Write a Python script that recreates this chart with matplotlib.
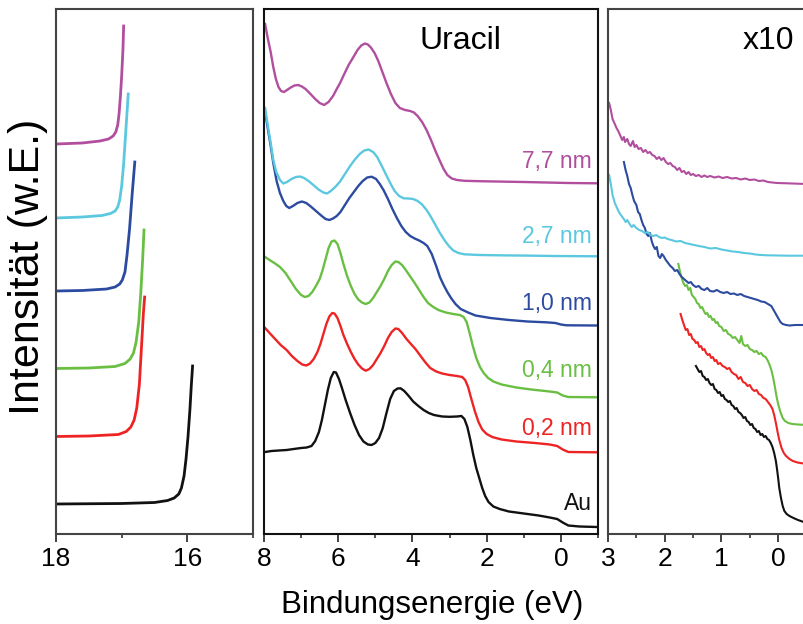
import matplotlib
matplotlib.use("Agg")
import matplotlib.pyplot as plt
from matplotlib.ticker import MultipleLocator

plt.rcParams["font.family"] = ["Liberation Sans", "DejaVu Sans"]

# ---------------------------------------------------------------
# UPS spectra of uracil films on Au, stacked with vertical offsets
# (intensity in arbitrary units)
# ---------------------------------------------------------------
labels = ["Au", "0,2 nm", "0,4 nm", "1,0 nm", "2,7 nm", "7,7 nm"]
colors = ["#111111", "#EE2424", "#6ABF43", "#2C4BA0", "#5CC8DF", "#B14E9E"]

# --- secondary-electron cutoff region (18 .. 15 eV) ---
cut_au_e = [18.0, 17.0, 16.5, 16.3, 16.2, 16.13, 16.09, 16.05, 16.02, 15.99, 15.96, 15.94, 15.92]
cut_au_i = [30, 30.5, 31.5, 33.5, 36, 40, 46, 58, 75, 97, 125, 148, 168]
cut_02_e = [18.0, 17.5, 17.05, 16.93, 16.86, 16.81, 16.77, 16.73, 16.7, 16.67, 16.65]
cut_02_i = [97.5, 98, 99.5, 102.5, 107, 114, 126, 150, 185, 220, 237]
cut_04_e = [18.0, 17.5, 17.1, 16.95, 16.87, 16.82, 16.78, 16.74, 16.71, 16.68, 16.66]
cut_04_i = [165.5, 166, 167.5, 170.5, 175, 181, 192, 212, 240, 275, 304]
cut_10_e = [18.0, 17.6, 17.23, 17.1, 17.03, 16.99, 16.95, 16.92, 16.88, 16.84, 16.8]
cut_10_i = [243, 243.5, 245, 247, 250, 254, 262, 278, 305, 340, 372]
cut_27_e = [18.0, 17.6, 17.3, 17.17, 17.1, 17.06, 17.03, 17.0, 16.97, 16.94, 16.9]
cut_27_i = [316, 317, 318.5, 320.5, 323, 327, 334, 348, 370, 400, 440]
cut_77_e = [18.0, 17.6, 17.33, 17.2, 17.13, 17.09, 17.06, 17.04, 17.02, 17.0, 16.98, 16.97]
cut_77_i = [390, 391, 393, 395, 398, 402, 409, 420, 437, 458, 485, 508]

# --- valence band region (8 .. -1 eV) ---
vb_au_e = [7.97, 7.8, 7.6, 7.39, 7.2, 7.0, 6.85, 6.72, 6.62, 6.52, 6.44, 6.36, 6.28, 6.2,
           6.12, 6.06, 5.98, 5.9, 5.8, 5.68, 5.56, 5.44, 5.32, 5.2, 5.1, 5.0, 4.9, 4.8, 4.7,
           4.6, 4.5, 4.4, 4.32, 4.22, 4.1, 3.98, 3.84, 3.7, 3.56, 3.42, 3.2, 3.0, 2.8, 2.68,
           2.6, 2.52, 2.44, 2.36, 2.28, 2.2, 2.12, 2.04, 1.95, 1.82, 1.65, 1.4, 1.0, 0.6, 0.3,
           0.1, -0.05, -0.2, -0.5, -0.97]
vb_au_i = [82, 83, 83.5, 84, 85, 86, 86.5, 88, 93, 102, 114, 129, 144, 156,
           162, 161.5, 155, 146, 134, 121, 109, 99, 92.5, 89.5, 89, 91, 96, 106, 121,
           135, 143, 145.5, 145.7, 143, 138, 132.5, 128, 124, 121, 119, 117.5, 117.2, 117.5, 118,
           115, 107, 94, 79, 66, 56, 46, 38, 32, 27.5, 25, 22.5, 20.5, 18.5, 16.5,
           15, 11.5, 8.5, 7.5, 7]
vb_02_e = [7.97, 7.85, 7.7, 7.55, 7.39, 7.25, 7.1, 6.97, 6.86, 6.76, 6.66, 6.56, 6.48, 6.4,
           6.32, 6.24, 6.16, 6.1, 6.02, 5.94, 5.86, 5.76, 5.66, 5.56, 5.46, 5.36, 5.26, 5.16,
           5.06, 4.96, 4.86, 4.76, 4.66, 4.56, 4.46, 4.38, 4.28, 4.16, 4.04, 3.92, 3.8, 3.66,
           3.52, 3.36, 3.2, 3.0, 2.8, 2.66, 2.58, 2.5, 2.42, 2.32, 2.22, 2.12, 2.0, 1.85, 1.6,
           1.2, 0.7, 0.3, 0.1, -0.05, -0.2, -0.97]
vb_02_i = [206, 201, 195, 189, 184, 178, 173, 169.5, 168.5, 170.5, 175, 182, 190, 200,
           210, 217.5, 221, 220.5, 216, 208, 199, 190, 182, 175, 169.5, 165.5, 163.3, 165,
           169, 175, 181, 188, 196, 202, 205.5, 205, 201, 195, 190, 185, 179, 172,
           166, 162.5, 160.5, 159, 158, 157, 154, 147, 136, 123, 112, 104.5, 100, 97, 94.5,
           92.5, 91, 89.5, 88, 84.5, 82, 81.7]
vb_04_e = [7.97, 7.85, 7.72, 7.57, 7.42, 7.28, 7.14, 7.0, 6.9, 6.8, 6.7, 6.6, 6.5, 6.42,
           6.34, 6.26, 6.18, 6.1, 6.02, 5.94, 5.86, 5.76, 5.66, 5.56, 5.46, 5.36, 5.26, 5.16,
           5.06, 4.96, 4.86, 4.76, 4.66, 4.56, 4.46, 4.38, 4.28, 4.18, 4.06, 3.94, 3.82, 3.7,
           3.58, 3.44, 3.3, 3.1, 2.9, 2.72, 2.62, 2.54, 2.46, 2.38, 2.28, 2.18, 2.08, 1.96,
           1.82, 1.6, 1.2, 0.8, 0.3, 0.1, -0.05, -0.2, -0.97]
vb_04_i = [277, 274, 271, 267, 261, 253, 245, 239, 237, 238, 242, 248, 255, 264,
           275, 286, 292.5, 293.5, 290, 281, 270, 258, 248, 240, 234.5, 231.5, 230, 231.5,
           236, 242, 248, 255, 263, 269, 272.5, 272, 269, 264, 257.5, 251, 244, 237,
           231, 227, 224, 221.5, 220, 219, 217, 212, 201, 189, 176, 167, 161, 156,
           152.5, 149.5, 146.5, 144.5, 142.5, 141.5, 138.5, 137, 136.7]
vb_10_e = [7.97, 7.9, 7.82, 7.75, 7.66, 7.57, 7.48, 7.4, 7.32, 7.22, 7.1, 6.98, 6.86, 6.74,
           6.6, 6.46, 6.34, 6.24, 6.14, 6.04, 5.94, 5.82, 5.7, 5.58, 5.46, 5.34, 5.22, 5.1,
           4.98, 4.88, 4.78, 4.66, 4.54, 4.42, 4.3, 4.18, 4.06, 3.94, 3.82, 3.7, 3.6, 3.48,
           3.36, 3.26, 3.16, 3.06, 2.96, 2.84, 2.7, 2.5, 2.3, 1.9, 1.4, 0.9, 0.4, 0.15, 0.0,
           -0.15, -0.97]
vb_10_i = [422, 406, 388, 371, 353, 341, 333, 328, 326, 328, 331, 332.5, 331, 327.5,
           323, 318.5, 315, 314, 315.5, 318, 322, 329, 336, 342, 348, 353, 356.5, 357.3,
           355, 350, 344, 335, 325, 316, 308, 302, 298, 295.5, 293.5, 291, 288, 280,
           268, 257, 249, 242, 236, 230, 225, 221.5, 218.5, 216, 214, 212.5, 211.7, 211, 209.5,
           208.7, 208.5]
vb_27_e = [7.97, 7.9, 7.82, 7.75, 7.67, 7.57, 7.48, 7.38, 7.26, 7.14, 7.03, 6.92, 6.8, 6.67,
           6.53, 6.4, 6.3, 6.2, 6.08, 5.95, 5.82, 5.68, 5.55, 5.42, 5.3, 5.18, 5.06, 4.95,
           4.84, 4.72, 4.6, 4.48, 4.36, 4.24, 4.1, 3.98, 3.86, 3.74, 3.62, 3.5, 3.38, 3.26,
           3.14, 3.02, 2.9, 2.76, 2.6, 2.2, 1.5, 0.9, 0.2, -0.97]
vb_27_i = [426, 409, 391, 374, 362, 354, 350.5, 352, 355, 357, 357.5, 356, 353, 349,
           344.5, 341.5, 340.5, 343, 347, 352.5, 360, 368, 374.5, 380, 383.5, 384.5, 382, 377,
           369, 360, 351, 343, 338, 335.7, 335.5, 335, 333, 329.5, 324, 317, 309, 301,
           294, 288, 283.5, 281, 279.7, 279, 278.6, 278.4, 278, 277.7]
vb_77_e = [7.97, 7.9, 7.82, 7.75, 7.68, 7.61, 7.54, 7.46, 7.38, 7.28, 7.18, 7.08, 6.98, 6.88,
           6.76, 6.62, 6.5, 6.38, 6.26, 6.14, 6.04, 5.95, 5.85, 5.72, 5.59, 5.48, 5.38, 5.28,
           5.2, 5.12, 5.02, 4.92, 4.82, 4.7, 4.58, 4.46, 4.34, 4.2, 4.06, 3.96, 3.86, 3.74,
           3.62, 3.5, 3.38, 3.26, 3.16, 3.06, 2.94, 2.8, 2.6, 2.2, 1.6, 1.0, 0.4, -0.2, -0.97]
vb_77_i = [510, 496, 482, 467, 455, 447, 443, 442, 444, 446.5, 448.5, 449, 447.5, 445,
           440.5, 435, 431, 429, 432, 438, 445, 451, 459, 469, 477, 484, 488.5, 490.5,
           489.5, 486.5, 481, 473, 463, 451, 440, 431, 426, 424, 423, 421.5, 418, 412,
           404, 394, 383, 373, 365, 359, 355.5, 354, 353.2, 352.8, 352.4, 352, 351.5, 351, 350.7]

# --- Fermi edge region, intensity x10 (3 .. -0.5 eV) ---
fe_au_e = [1.45, 1.42, 1.39, 1.36, 1.33, 1.3, 1.27, 1.24, 1.21, 1.18,
           1.15, 1.12, 1.09, 1.06, 1.03, 1.0, 0.97, 0.94, 0.91, 0.88,
           0.85, 0.82, 0.79, 0.76, 0.73, 0.7, 0.67, 0.64, 0.61, 0.58,
           0.55, 0.52, 0.49, 0.46, 0.43, 0.4, 0.37, 0.34, 0.31, 0.28,
           0.25, 0.22, 0.19, 0.16, 0.13, 0.1, 0.07, 0.04, 0.02, 0.0,
           -0.02, -0.05, -0.08, -0.11, -0.15, -0.2, -0.27, -0.35, -0.5]
fe_au_i = [168, 165, 162, 163, 158, 157, 154, 155, 151, 149,
           150, 145, 144, 141, 142, 138, 139, 135, 134, 132,
           133, 129, 128, 125, 126, 122, 121, 119, 116, 117,
           113, 112, 109, 110, 106, 105, 102, 103, 99, 100,
           97, 98, 95, 94, 91, 87, 81, 73, 65, 56,
           46, 36, 28, 23, 20, 18, 16, 14, 11]
fe_02_e = [1.72, 1.69, 1.66, 1.63, 1.6, 1.57, 1.54, 1.51, 1.48, 1.45,
           1.42, 1.39, 1.36, 1.33, 1.3, 1.27, 1.24, 1.21, 1.18, 1.15,
           1.12, 1.09, 1.06, 1.02, 0.98, 0.94, 0.9, 0.86, 0.82, 0.78,
           0.74, 0.7, 0.66, 0.62, 0.58, 0.54, 0.5, 0.46, 0.42, 0.38,
           0.34, 0.3, 0.26, 0.22, 0.18, 0.14, 0.1, 0.07, 0.04, 0.01,
           -0.02, -0.06, -0.1, -0.14, -0.2, -0.26, -0.34, -0.5]
fe_02_i = [220, 214, 209, 204, 205, 199, 200, 195, 194, 191,
           192, 187, 188, 184, 185, 181, 179, 180, 176, 177,
           173, 174, 170, 171, 168, 167, 165, 166, 162, 160,
           159, 155, 157, 152, 151, 148, 149, 145, 143, 144,
           140, 139, 136, 135, 132, 129, 125, 119, 111, 102,
           94, 86, 81, 78, 75, 73, 71.5, 70]
fe_04_e = [1.76, 1.73, 1.7, 1.67, 1.64, 1.61, 1.58, 1.55, 1.52, 1.49,
           1.46, 1.43, 1.4, 1.37, 1.34, 1.31, 1.28, 1.25, 1.22, 1.19,
           1.16, 1.13, 1.1, 1.07, 1.04, 1.0, 0.96, 0.92, 0.88, 0.84,
           0.8, 0.76, 0.72, 0.68, 0.65, 0.62, 0.58, 0.54, 0.5, 0.46,
           0.42, 0.38, 0.34, 0.3, 0.26, 0.22, 0.18, 0.15, 0.12, 0.09,
           0.06, 0.03, 0.0, -0.04, -0.08, -0.12, -0.18, -0.25, -0.35, -0.5]
fe_04_i = [270, 262, 256, 251, 248, 249, 244, 246, 239, 237,
           235, 231, 230, 226, 227, 223, 220, 221, 217, 218,
           214, 215, 211, 212, 208, 207, 203, 204, 200, 199,
           196, 197, 194, 191, 198, 190, 188, 189, 185, 184,
           182, 183, 180, 181, 178, 177, 173, 169, 164, 157,
           148, 138, 130, 122, 116, 113, 111, 110, 109.5, 109]
fe_10_e = [2.72, 2.69, 2.66, 2.63, 2.6, 2.57, 2.54, 2.5, 2.47, 2.44,
           2.41, 2.38, 2.35, 2.32, 2.29, 2.26, 2.23, 2.2, 2.17, 2.14,
           2.11, 2.08, 2.05, 2.02, 1.98, 1.94, 1.9, 1.86, 1.82, 1.78,
           1.74, 1.7, 1.66, 1.62, 1.58, 1.54, 1.5, 1.45, 1.4, 1.35,
           1.3, 1.25, 1.2, 1.14, 1.08, 1.02, 0.96, 0.9, 0.84, 0.78,
           0.72, 0.66, 0.6, 0.54, 0.48, 0.42, 0.36, 0.3, 0.24, 0.18,
           0.12, 0.08, 0.04, 0.0, -0.04, -0.08, -0.14, -0.2, -0.3, -0.5]
fe_10_i = [372, 364, 358, 350, 346, 339, 333, 329, 322, 320,
           314, 309, 306, 300, 298, 301, 293, 288, 285, 287,
           278, 276, 280, 278, 274, 271, 268, 266, 263, 264,
           260, 257, 255, 253, 251, 252, 249, 247, 248, 245,
           244, 246, 243, 242.5, 244, 242, 241, 242, 240, 240.5,
           239, 240, 238, 237, 236, 235, 234, 232.5, 232, 230,
           228, 224, 220, 216, 212, 210, 209, 208.5, 209, 209]
fe_27_e = [2.98, 2.95, 2.92, 2.88, 2.84, 2.8, 2.76, 2.72, 2.69, 2.66,
           2.62, 2.58, 2.55, 2.5, 2.45, 2.4, 2.35, 2.3, 2.25, 2.2,
           2.15, 2.1, 2.05, 2.0, 1.95, 1.88, 1.8, 1.72, 1.64, 1.56,
           1.48, 1.4, 1.3, 1.2, 1.1, 1.0, 0.9, 0.8, 0.7, 0.6,
           0.5, 0.4, 0.3, 0.2, 0.0, -0.2, -0.5]
fe_27_i = [359, 350, 339, 331, 326, 321, 318, 315, 312, 314,
           310, 307, 309, 306, 304, 303, 301, 302, 299, 298,
           299, 297, 296, 296.5, 295, 294, 292.5, 293, 291, 290,
           289, 288, 287, 285.5, 286, 284.5, 283.5, 282.5, 282, 281,
           280.5, 279.5, 279, 278.7, 278.5, 278.3, 278.3]
fe_77_e = [2.98, 2.95, 2.92, 2.88, 2.85, 2.82, 2.78, 2.75, 2.72, 2.7,
           2.66, 2.63, 2.6, 2.56, 2.53, 2.5, 2.46, 2.42, 2.38, 2.34,
           2.3, 2.26, 2.22, 2.18, 2.14, 2.1, 2.06, 2.02, 1.98, 1.94,
           1.9, 1.86, 1.82, 1.78, 1.74, 1.7, 1.66, 1.62, 1.58, 1.54,
           1.5, 1.45, 1.4, 1.35, 1.3, 1.25, 1.2, 1.12, 1.05, 0.98,
           0.9, 0.82, 0.74, 0.66, 0.58, 0.5, 0.42, 0.34, 0.26, 0.18,
           0.1, 0.02, -0.1, -0.25, -0.5]
fe_77_i = [431, 424, 415, 410, 406, 403, 398, 394, 397, 392,
           395, 390, 388, 393, 387, 389, 385, 386, 382, 384,
           381, 382, 379, 378, 375, 377, 374, 376, 372, 370,
           371, 368, 367, 364, 366, 362, 363, 360, 362, 359,
           360, 358, 359, 357, 358.5, 357, 358, 356.5, 357.5, 356,
           357, 355.5, 356, 354.5, 355.5, 354, 354.5, 353, 353.5, 352,
           351.5, 351, 350.8, 350.5, 350]

cutoff = [(cut_au_e, cut_au_i), (cut_02_e, cut_02_i), (cut_04_e, cut_04_i),
          (cut_10_e, cut_10_i), (cut_27_e, cut_27_i), (cut_77_e, cut_77_i)]
valence = [(vb_au_e, vb_au_i), (vb_02_e, vb_02_i), (vb_04_e, vb_04_i),
           (vb_10_e, vb_10_i), (vb_27_e, vb_27_i), (vb_77_e, vb_77_i)]
fermi = [(fe_au_e, fe_au_i), (fe_02_e, fe_02_i), (fe_04_e, fe_04_i),
         (fe_10_e, fe_10_i), (fe_27_e, fe_27_i), (fe_77_e, fe_77_i)]

# label anchor heights (same units as intensity) in the valence panel
label_y = [24, 99, 157, 224, 291, 366]

# ---------------------------------------------------------------
W, H = 804, 624
fig = plt.figure(figsize=(W / 100, H / 100), dpi=100)

bot = 1 - 534 / H
hgt = 525 / H
ax_cut = fig.add_axes([56 / W, bot, 197 / W, hgt])
ax_vb = fig.add_axes([264 / W, bot, 334 / W, hgt])
ax_fe = fig.add_axes([608 / W, bot, 198.5 / W, hgt])

setup = [
    (ax_cut, (18, 15), 2, 1, "#444444"),
    (ax_vb, (8, -1), 2, 1, "#111111"),
    (ax_fe, (3, -0.5), 1, 0.5, "#444444"),
]
for ax, xl, major, minor, sc in setup:
    ax.set_xlim(*xl)
    ax.set_ylim(0, 525)
    ax.set_yticks([])
    ax.xaxis.set_major_locator(MultipleLocator(major))
    ax.xaxis.set_minor_locator(MultipleLocator(minor))
    ax.tick_params(axis="x", which="major", direction="out", length=5.5, width=1.2,
                   labelsize=19, pad=3.5, color="#222222")
    ax.tick_params(axis="x", which="minor", direction="out", length=3, width=1.1,
                   color="#222222")
    for sp in ax.spines.values():
        sp.set_linewidth(1.5)
        sp.set_color(sc)

for (e, i), c in zip(cutoff, colors):
    ax_cut.plot(e, i, color=c, lw=2.0, solid_joinstyle="round")
for (e, i), c in zip(valence, colors):
    ax_vb.plot(e, i, color=c, lw=1.7)
for (e, i), c in zip(fermi, colors):
    ax_fe.plot(e, i, color=c, lw=1.5)

for lab, c, y in zip(labels, colors, label_y):
    ax_vb.text(0.982, y, lab, color=c, fontsize=16.5, ha="right", va="baseline",
               transform=ax_vb.get_yaxis_transform())

ax_vb.text(0.587, 0.924, "Uracil", fontsize=23, ha="center", va="baseline",
           transform=ax_vb.transAxes)
ax_fe.text(0.68, 0.924, "x10", fontsize=23, ha="left", va="baseline",
           transform=ax_fe.transAxes)

fig.text(432 / W, 1 - 613 / H, "Bindungsenergie (eV)", fontsize=22.5,
         ha="center", va="baseline")
fig.text(28 / W, 1 - 267 / H, "Intensität (w.E.)", fontsize=31, rotation=90,
         ha="center", va="center")

fig.savefig("out.png", dpi=100)
